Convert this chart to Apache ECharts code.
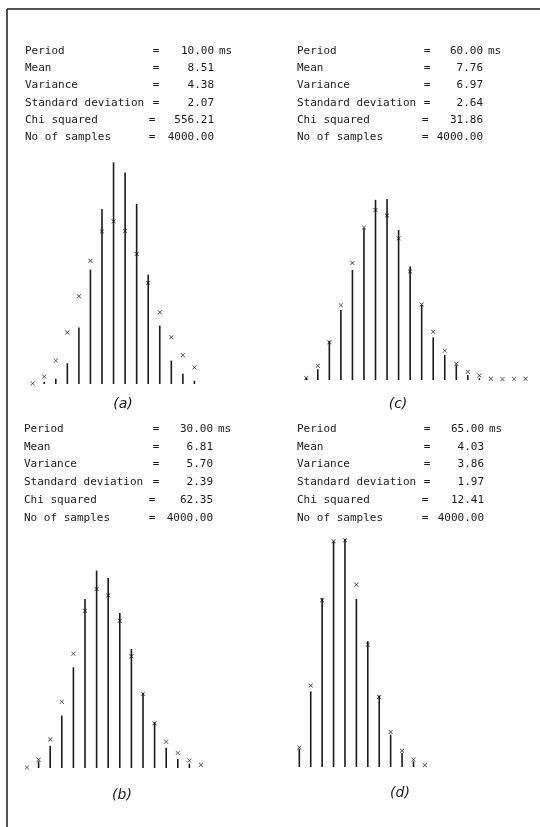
<!DOCTYPE html>
<html>
<head>
<meta charset="utf-8">
<script src="https://cdn.jsdelivr.net/npm/echarts@6/dist/echarts.min.js"></script>
<style>
html,body{margin:0;padding:0;background:#fff;}
#chart{width:540px;height:827px;}
</style>
</head>
<body>
<div id="chart"></div>
<script>
// ---- data (counts per number of events; observed = bars, expected = x marks) ----
const aCategories = ['1','2','3','4','5','6','7','8','9','10','11','12','13','14','15'];
const aObserved = [0, 7, 18, 70, 191, 386, 591, 748, 714, 608, 369, 197, 79, 35, 11];
const aExpected = [2, 25, 79, 174, 296, 416, 515, 549, 516, 439, 341, 242, 158, 97, 56];

const bCategories = ['0','1','2','3','4','5','6','7','8','9','10','11','12','13','14','15'];
const bObserved = [0, 23, 75, 177, 340, 570, 666, 641, 523, 402, 253, 154, 68, 30, 15, 0];
const bExpected = [2, 28, 96, 224, 386, 531, 604, 582, 497, 377, 251, 151, 89, 51, 25, 11];

const cCategories = ['1','2','3','4','5','6','7','8','9','10','11','12','13','14','15','16','17','18','19','20'];
const cObserved = [7, 36, 132, 236, 371, 512, 608, 611, 506, 383, 253, 144, 84, 51, 17, 6, 0, 0, 0, 0];
const cExpected = [7, 48, 127, 252, 395, 515, 574, 555, 478, 366, 255, 163, 99, 55, 28, 15, 4, 3, 3, 4];

const dCategories = ['0','1','2','3','4','5','6','7','8','9','10','11'];
const dObserved = [61, 255, 570, 762, 770, 567, 424, 241, 109, 47, 19, 0];
const dExpected = [66, 275, 563, 762, 765, 615, 413, 236, 118, 55, 25, 6];

const statLabels = ['Period', 'Mean', 'Variance', 'Standard deviation', 'Chi squared', 'No of samples'];
const aStats = ['10.00', '8.51', '4.38', '2.07', '556.21', '4000.00'];
const bStats = ['30.00', '6.81', '5.70', '2.39', '62.35', '4000.00'];
const cStats = ['60.00', '7.76', '6.97', '2.64', '31.86', '4000.00'];
const dStats = ['65.00', '4.03', '3.86', '1.97', '12.41', '4000.00'];
const periodUnit = 'ms';
const captions = ['(a)', '(b)', '(c)', '(d)'];

// ---- layout ----
const INK = '#1a1a1a';
const FONT = '11px "DejaVu Sans Mono", monospace';
const yMax = 810;
const panels = [
  {cats: aCategories, obs: aObserved, exp: aExpected, grid: {left: 26.9, top: 144, width: 173.3, height: 240}},
  {cats: bCategories, obs: bObserved, exp: bExpected, grid: {left: 21.2, top: 528, width: 185.6, height: 240}},
  {cats: cCategories, obs: cObserved, exp: cExpected, grid: {left: 300.5, top: 140, width: 230.8, height: 240}},
  {cats: dCategories, obs: dObserved, exp: dExpected, grid: {left: 293.6, top: 527, width: 137, height: 240}}
];

const xMark = 'path://M0,1L1,0L5,4L9,0L10,1L6,5L10,9L9,10L5,6L1,10L0,9L4,5Z';

const grids = [], xAxes = [], yAxes = [], series = [];
panels.forEach((p, i) => {
  grids.push(Object.assign({}, p.grid));
  xAxes.push({type: 'category', gridIndex: i, data: p.cats, show: false, boundaryGap: true});
  yAxes.push({type: 'value', gridIndex: i, min: 0, max: yMax, show: false});
  series.push({
    type: 'bar', xAxisIndex: i, yAxisIndex: i, data: p.obs, barWidth: 1.6,
    itemStyle: {color: INK}, silent: true, animation: false
  });
  series.push({
    type: 'scatter', xAxisIndex: i, yAxisIndex: i, data: p.exp, symbol: xMark, symbolSize: 4.5,
    itemStyle: {color: '#000'}, silent: true, animation: false, z: 5
  });
});

// ---- stats text blocks ----
const graphic = [];
function statBlock(stats, x0, eqX, eqX2, valRight, y0, dy) {
  statLabels.forEach((lab, k) => {
    const y = y0 + k * dy;
    graphic.push({type: 'text', style: {text: lab, x: x0, y: y, font: FONT, fill: INK, textAlign: 'left', textVerticalAlign: 'middle'}});
    graphic.push({type: 'text', style: {text: '=', x: k >= 4 ? eqX2 : eqX, y: y, font: FONT, fill: INK, textAlign: 'center', textVerticalAlign: 'middle'}});
    graphic.push({type: 'text', style: {text: stats[k], x: valRight, y: y, font: FONT, fill: INK, textAlign: 'right', textVerticalAlign: 'middle'}});
    if (k === 0) {
      graphic.push({type: 'text', style: {text: periodUnit, x: valRight + 5, y: y, font: FONT, fill: INK, textAlign: 'left', textVerticalAlign: 'middle'}});
    }
  });
}
statBlock(aStats, 25, 156, 152, 214, 51, 17.3);
statBlock(cStats, 297, 427, 425, 483, 51, 17.3);
statBlock(bStats, 24, 156, 152, 213, 429, 17.8);
statBlock(dStats, 297, 427, 425, 484, 429, 17.8);

const capPos = [[123, 404], [122, 795], [398, 404], [400, 793]];
captions.forEach((c, i) => {
  graphic.push({type: 'text', style: {text: c, x: capPos[i][0], y: capPos[i][1], font: 'italic 14px "DejaVu Sans", sans-serif', fill: INK, textAlign: 'center', textVerticalAlign: 'middle'}});
});

// frame lines (top and left)
graphic.push({type: 'line', shape: {x1: 7, y1: 9, x2: 540, y2: 9}, style: {stroke: INK, lineWidth: 1.5}});
graphic.push({type: 'line', shape: {x1: 7, y1: 9, x2: 7, y2: 827}, style: {stroke: INK, lineWidth: 1.5}});

const chart = echarts.init(document.getElementById('chart'), null, {renderer: 'canvas'});
chart.setOption({
  backgroundColor: '#fff',
  animation: false,
  grid: grids,
  xAxis: xAxes,
  yAxis: yAxes,
  series: series,
  graphic: graphic
});
</script>
</body>
</html>
